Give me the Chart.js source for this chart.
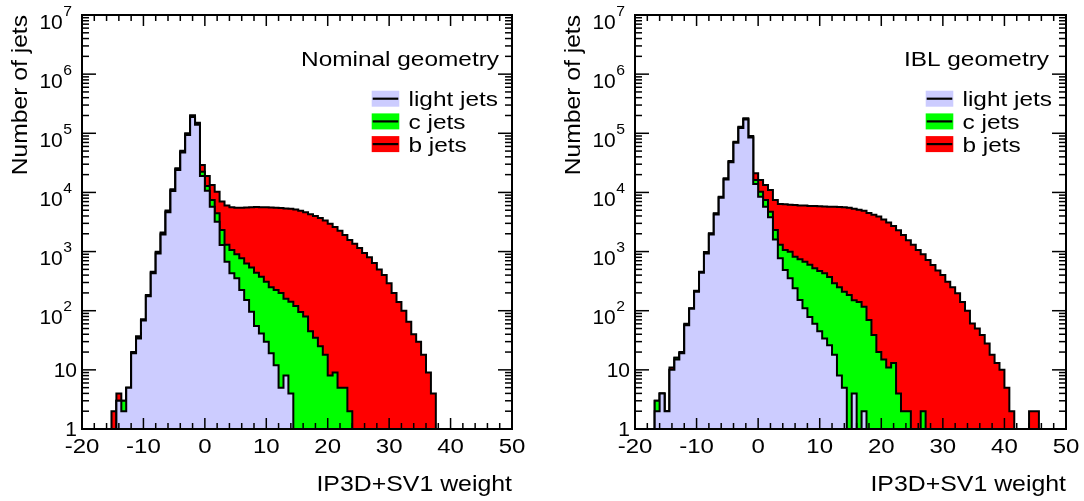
<!DOCTYPE html>
<html><head><meta charset="utf-8">
<script src="https://cdn.jsdelivr.net/npm/chart.js@4.4.1/dist/chart.umd.min.js"></script>
<style>
html,body{margin:0;padding:0;background:#fff;}
#wrap{position:relative;width:1084px;height:501px;background:#fff;}
.panel{position:absolute;top:0;width:542px;height:501px;}
canvas{display:block;}
</style></head><body>
<div id="wrap">
<div class="panel" style="left:0px"><canvas id="c1" width="542" height="501"></canvas></div>
<div class="panel" style="left:542px"><canvas id="c2" width="542" height="501"></canvas></div>
</div>
<script>
// ---- bins (lower edges + final upper edge) of the IP3D+SV1 weight histogram ----
const binEdges = [-20,-19.2,-18.4,-17.6,-16.8,-16,-15.2,-14.4,-13.6,-12.8,-12,-11.2,-10.4,-9.6,-8.8,-8,-7.2,-6.4,-5.6,-4.8,-4,-3.2,-2.4,-1.6,-0.8,0,0.8,1.6,2.4,3.2,4,4.8,5.6,6.4,7.2,8,8.8,9.6,10.4,11.2,12,12.8,13.6,14.4,15.2,16,16.8,17.6,18.4,19.2,20,20.8,21.6,22.4,23.2,24,24.8,25.6,26.4,27.2,28,28.8,29.6,30.4,31.2,32,32.8,33.6,34.4,35.2,36,36.8,37.6,38.4,39.2,40,40.8,41.6,42.4,43.2,44,44.8,45.6,46.4,47.2,48,48.8,49.6,50.4];

// ---- Nominal geometry (left panel): jets per bin ----
const nominalLight = [0,0,0,0,0,0,0,3,2,5,19,34,68,175,430,930,1950,4600,10600,24000,47500,94000,188000,140000,19000,10700,5740,3200,1290,675,430,353,224,152,96,55,41,30,19,12,5,8,4,
0,0,0,0,0,0,0,0,0,0,0,0,0,0,0,0,0,0,0,0,0,0,0,0,0,0,0,0,0,0,0,0,0,0,0,0,0,0,0,0,0,0,0,0,0];
const nominalC = [0,0,0,0,0,0,0,0,1,0,0,2,2,6,15,35,80,150,350,800,1500,3000,7000,5000,3400,2200,1710,1240,1030,625,630,547,546,478,444,385,335,280,231,212,195,152,138,120,95,80,45,35,25,18,8,9,5,5,2,
0,0,0,0,0,0,0,0,0,0,0,0,0,0,0,0,0,0,0,0,0,0,0,0,0,0,0,0,0,0,0,0,0];
const nominalB = [0,0,0,0,0,0,2,1,0,0,1,1,2,4,12,30,70,200,350,800,1500,3000,6000,6000,6700,6100,5950,5860,4680,4700,4540,4600,4730,4920,5060,5210,5220,5290,5300,5280,5250,5190,5160,5030,4800,4520,4250,3965,3675,3330,2940,2590,2245,1895,1570,1350,1150,950,800,640,500,400,290,200,140,100,65,40,30,18,9,4,
0,0,0,0,0,0,0,0,0,0,0,0,0,0,0,0];

// ---- IBL geometry (right panel): jets per bin ----
const iblLight = [0,0,0,0,2,4,2,10,15,19,57,108,210,440,930,1950,4250,8100,16500,32500,69000,123000,171000,85000,13900,8470,5740,3800,1600,770,490,353,240,152,110,78,60,45,34,26,18,8,5,0,4,0,2,
0,0,0,0,0,0,0,0,0,0,0,0,0,0,0,0,0,0,0,0,0,0,0,0,0,0,0,0,0,0,0,0,0,0,0,0,0,0,0,0,0];
const iblC = [0,0,0,0,1,0,0,0,1,0,1,1,3,12,25,50,100,200,400,800,1500,3000,4000,2500,2300,1830,1710,900,720,530,570,642,580,588,565,522,460,425,396,344,272,242,205,185,146,140,115,70,39,20,15,11,13,4,2,2,0,0,2,
0,0,0,0,0,0,0,0,0,0,0,0,0,0,0,0,0,0,0,0,0,0,0,0,0,0,0,0,0];
const iblB = [0,0,0,0,0,0,0,1,0,1,2,1,5,5,25,40,90,170,400,700,1600,3000,4000,2500,4900,5900,5950,6300,5130,5080,5240,5205,5280,5260,5325,5300,5380,5380,5370,5380,5410,5400,5390,5315,5150,4960,4783,4430,4161,3880,3485,3089,2687,2296,1898,1548,1300,1060,898,720,593,480,400,310,250,197,140,100,61,50,39,28,18,13,10,5,2,0,0,0,2,2,
0,0,0,0,0,0];

// ---- labels / ticks ----
const seriesNames = ['light jets', 'c jets', 'b jets'];
const xTickValues = [-20,-10,0,10,20,30,40,50];
const xTickLabels = ['-20','-10','0','10','20','30','40','50'];
const yTickExponents = [0,1,2,3,4,5,6,7];
const yTickLabels = ['1','10','10^2','10^3','10^4','10^5','10^6','10^7'];
const xTitle = 'IP3D+SV1 weight';
const yTitle = 'Number of jets';

// ---- styles ----
const COL_LIGHT = 'rgb(204,204,255)';
const COL_C = 'rgb(0,255,0)';
const COL_B = 'rgb(255,0,0)';
const FONT = '"Liberation Sans", Arial, Helvetica, sans-serif';
const BELOW_AXIS = 0.3; // empty bins are drawn below the y-axis minimum

function txt(ctx, s, x, y, size, align, sx) {
  ctx.save();
  ctx.font = size + 'px ' + FONT;
  ctx.textBaseline = 'alphabetic';
  ctx.textAlign = 'left';
  const w = ctx.measureText(s).width * sx;
  const x0 = align === 'right' ? x - w : (align === 'center' ? x - w / 2 : x);
  ctx.translate(x0, y);
  ctx.scale(sx, 1);
  ctx.fillStyle = '#000';
  ctx.fillText(s, 0, 0);
  ctx.restore();
  return w;
}

function seg(ctx, x1, y1, x2, y2) {
  ctx.beginPath(); ctx.moveTo(x1, y1); ctx.lineTo(x2, y2); ctx.stroke();
}

function rootPlugin(header, headerRightOff) {
  return {
    id: 'rootAxes',
    afterDraw(chart) {
      const { ctx, chartArea: a } = chart;
      const xs = chart.scales.x, ys = chart.scales.y;
      ctx.save();
      ctx.strokeStyle = '#000';
      // ticks
      ctx.lineWidth = 1.5;
      for (let v = -20; v <= 50; v += 2) {
        const px = xs.getPixelForValue(v);
        const major = xTickValues.includes(v);
        const L = major ? 11 : 6;
        seg(ctx, px, a.bottom, px, a.bottom - L);
        seg(ctx, px, a.top, px, a.top + L);
      }
      yTickExponents.forEach((e) => {
        const py = ys.getPixelForValue(Math.pow(10, e));
        seg(ctx, a.left, py, a.left + 14, py);
        seg(ctx, a.right, py, a.right - 14, py);
        if (e < 7) {
          for (let m = 2; m <= 9; m++) {
            const pm = ys.getPixelForValue(m * Math.pow(10, e));
            seg(ctx, a.left, pm, a.left + 7, pm);
            seg(ctx, a.right, pm, a.right - 7, pm);
          }
        }
      });
      // frame
      ctx.lineWidth = 2;
      ctx.strokeRect(a.left, a.top, a.right - a.left, a.bottom - a.top);

      // x tick labels
      xTickValues.forEach((v, i) => {
        txt(ctx, xTickLabels[i], xs.getPixelForValue(v), a.bottom + 24, 20, 'center', 1.2);
      });
      // y tick labels
      yTickExponents.forEach((e, i) => {
        const py = ys.getPixelForValue(Math.pow(10, e));
        const lab = yTickLabels[i];
        if (lab.indexOf('^') < 0) {
          txt(ctx, lab, a.left - 5, py + 7, 20, 'right', 1.05);
        } else {
          const [base, ex] = lab.split('^');
          const we = txt(ctx, ex, a.left - 10, py + 0.5, 15, 'right', 1.05);
          txt(ctx, base, a.left - 10 - we - 0.5, py + 13.5, 20, 'right', 1.05);
        }
      });
      // axis titles
      txt(ctx, xTitle, a.right, a.bottom + 62, 22, 'right', 1.13);
      ctx.save();
      ctx.translate(a.left - 55.5, a.top);
      ctx.rotate(-Math.PI / 2);
      txt(ctx, yTitle, 0, 0, 22, 'right', 1.12);
      ctx.restore();

      // header text
      txt(ctx, header, a.right - headerRightOff, 65.5, 20, 'right', 1.22);
      // legend
      const cols = [COL_LIGHT, COL_C, COL_B];
      seriesNames.forEach((name, i) => {
        const cy = 98.7 + 22.7 * i;
        const bx = a.right - 140.3;
        ctx.fillStyle = cols[i];
        ctx.fillRect(bx, cy - 8, 27.6, 16);
        ctx.strokeStyle = '#000';
        ctx.lineWidth = 2.2;
        seg(ctx, bx + 1, cy, bx + 26.6, cy);
        txt(ctx, name, a.right - 103.5, cy + 7.5, 20, 'left', 1.22);
      });
      ctx.restore();
    }
  };
}

function buildPoints(arrs) {
  const n = binEdges.length - 1;
  const pts = [];
  for (let i = 0; i < n; i++) {
    let s = 0;
    arrs.forEach(a => { s += (a[i] || 0); });
    pts.push({ x: binEdges[i], y: s > 0 ? s : BELOW_AXIS });
  }
  pts.push({ x: binEdges[n], y: BELOW_AXIS });
  return pts;
}

function makeChart(id, light, cj, bj, pad, header, headerRightOff) {
  const common = { fill: 'start', stepped: true, borderColor: '#000', borderWidth: 2, pointRadius: 0, borderJoinStyle: 'miter', tension: 0 };
  return new Chart(document.getElementById(id), {
    type: 'line',
    data: {
      datasets: [
        Object.assign({ label: seriesNames[0], data: buildPoints([light]), backgroundColor: COL_LIGHT }, common),
        Object.assign({ label: seriesNames[1], data: buildPoints([light, cj]), backgroundColor: COL_C }, common),
        Object.assign({ label: seriesNames[2], data: buildPoints([light, cj, bj]), backgroundColor: COL_B }, common)
      ]
    },
    options: {
      responsive: false,
      animation: false,
      devicePixelRatio: 1,
      layout: { padding: pad },
      scales: {
        x: { type: 'linear', min: -20, max: 50, display: false },
        y: { type: 'logarithmic', min: 1, max: 1e7, display: false }
      },
      plugins: { legend: { display: false }, tooltip: { enabled: false } }
    },
    plugins: [rootPlugin(header, headerRightOff)]
  });
}

makeChart('c1', nominalLight, nominalC, nominalB, { left: 82, right: 30, top: 15, bottom: 72 }, 'Nominal geometry', 13);
makeChart('c2', iblLight, iblC, iblB, { left: 93, right: 18, top: 15, bottom: 72 }, 'IBL geometry', 17);
</script>
</body></html>
